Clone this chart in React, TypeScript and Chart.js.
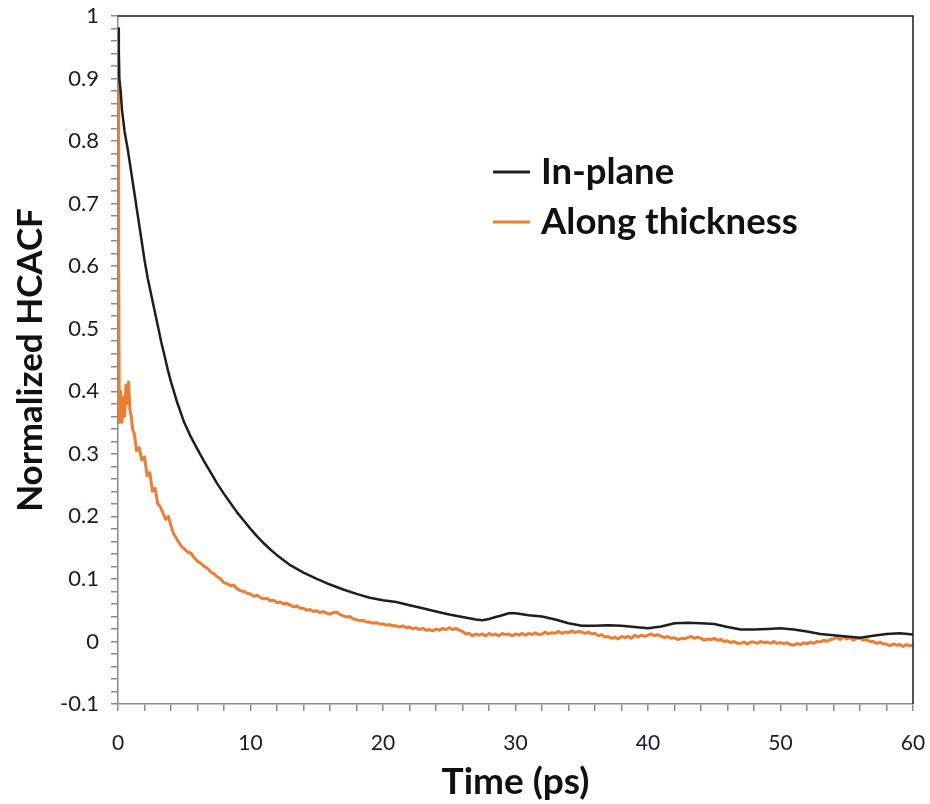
import React, { useEffect, useRef } from "react";
import { Chart, registerables } from "chart.js";

Chart.register(...registerables);

const inPlaneTime = [0, 0.05, 0.1, 0.2, 0.3, 0.5, 0.75, 1, 1.25, 1.5, 1.75, 2, 2.25, 2.5, 2.75, 3, 3.25, 3.5, 3.75, 4, 4.5, 5, 5.5, 6, 6.5, 7, 7.5, 8, 8.5, 9, 9.5, 10, 10.5, 11, 11.5, 12, 12.5, 13, 13.5, 14, 15, 16, 17, 18, 19, 20, 21, 22, 23, 24, 25, 26, 27, 27.5, 28, 28.5, 29, 29.5, 30, 31, 32, 33, 34, 35, 36, 37, 38, 39, 40, 41, 42, 43, 44, 45, 46, 47, 48, 49, 50, 51, 52, 53, 54, 55, 56, 57, 58, 59, 60];
const inPlaneValue = [0.98, 0.95, 0.9, 0.88, 0.85, 0.815, 0.785, 0.75, 0.715, 0.68, 0.645, 0.61, 0.58, 0.555, 0.53, 0.505, 0.48, 0.458, 0.435, 0.415, 0.38, 0.35, 0.327, 0.307, 0.288, 0.27, 0.252, 0.236, 0.221, 0.206, 0.193, 0.18, 0.168, 0.157, 0.147, 0.138, 0.13, 0.122, 0.116, 0.11, 0.1, 0.091, 0.083, 0.076, 0.07, 0.066, 0.063, 0.058, 0.053, 0.048, 0.043, 0.039, 0.035, 0.034, 0.036, 0.039, 0.042, 0.045, 0.045, 0.042, 0.04, 0.035, 0.029, 0.025, 0.025, 0.026, 0.025, 0.023, 0.021, 0.024, 0.029, 0.03, 0.029, 0.028, 0.023, 0.019, 0.019, 0.02, 0.021, 0.019, 0.016, 0.012, 0.01, 0.008, 0.006, 0.009, 0.012, 0.013, 0.011];

// Along thickness: irregular early samples (0–4.8 ps)
const thicknessEarlyTime = [0, 0.05, 0.1, 0.2, 0.3, 0.4, 0.5, 0.6, 0.7, 0.8, 0.9, 1.0, 1.1, 1.25, 1.4, 1.6, 1.8, 2.0, 2.2, 2.4, 2.6, 2.8, 3.0, 3.2, 3.4, 3.6, 3.8, 4.0, 4.2, 4.4, 4.6, 4.8];
const thicknessEarlyValue = [0.98, 0.6, 0.35, 0.4, 0.35, 0.39, 0.36, 0.41, 0.38, 0.415, 0.37, 0.36, 0.34, 0.33, 0.305, 0.31, 0.29, 0.295, 0.265, 0.27, 0.24, 0.245, 0.22, 0.215, 0.205, 0.195, 0.2, 0.185, 0.172, 0.165, 0.158, 0.152];
// Along thickness: samples every 0.25 ps from 5 ps to 60 ps
const thicknessTailStart = 5;
const thicknessTailStep = 0.25;
const thicknessTailValue = [
  0.148, 0.143, 0.141, 0.134, 0.128, 0.125, 0.12, 0.117, 0.111, 0.108, 0.103, 0.1,
  0.094, 0.092, 0.089, 0.09, 0.084, 0.081, 0.08, 0.077, 0.076, 0.072, 0.074, 0.07,
  0.068, 0.069, 0.065, 0.066, 0.062, 0.063, 0.06, 0.061, 0.058, 0.055, 0.057, 0.053,
  0.053, 0.05, 0.051, 0.048, 0.049, 0.046, 0.048, 0.045, 0.044, 0.046, 0.047, 0.043,
  0.041, 0.039, 0.04, 0.036, 0.035, 0.033, 0.034, 0.031, 0.031, 0.029, 0.03, 0.028,
  0.028, 0.026, 0.027, 0.025, 0.025, 0.023, 0.025, 0.022, 0.023, 0.02, 0.022, 0.019,
  0.021, 0.018, 0.019, 0.017, 0.02, 0.018, 0.021, 0.019, 0.022, 0.019, 0.021, 0.018,
  0.016, 0.012, 0.013, 0.009, 0.012, 0.01, 0.012, 0.009, 0.013, 0.01, 0.012, 0.009,
  0.013, 0.011, 0.012, 0.009, 0.012, 0.01, 0.013, 0.01, 0.013, 0.011, 0.014, 0.011,
  0.012, 0.015, 0.012, 0.014, 0.013, 0.016, 0.013, 0.015, 0.014, 0.017, 0.014, 0.016,
  0.015, 0.013, 0.015, 0.012, 0.013, 0.009, 0.011, 0.007, 0.008, 0.005, 0.007, 0.004,
  0.008, 0.006, 0.008, 0.005, 0.01, 0.007, 0.01, 0.008, 0.01, 0.012, 0.009, 0.011,
  0.008, 0.006, 0.008, 0.005, 0.006, 0.003, 0.005, 0.004, 0.006, 0.008, 0.005, 0.007,
  0.005, 0.002, 0.004, 0.003, 0.005, 0.002, 0.003, 0.0, 0.001, -0.002, 0.0, -0.003,
  -0.003, -0.001, -0.004, -0.001, -0.001, -0.003, 0.0, -0.002, -0.001, -0.003, 0.0, -0.003,
  -0.002, -0.004, -0.002, -0.005, -0.006, -0.003, -0.005, -0.002, -0.004, -0.001, -0.003, 0.0,
  -0.001, 0.002, 0.0, 0.003, 0.004, 0.007, 0.003, 0.008, 0.004, 0.006, 0.002, 0.005,
  0.005, 0.002, 0.003, 0.0, 0.0, -0.003, -0.001, -0.004, -0.004, -0.007, -0.004, -0.006,
  -0.005, -0.008, -0.005, -0.007, -0.006,
];

const seriesNames = ["In-plane", "Along thickness"];
const seriesColors = ["#1e1e1e", "#ED7D31"];

const FONT = "Lato, 'Open Sans', sans-serif";

export default function App() {
  const canvasRef = useRef<HTMLCanvasElement | null>(null);

  useEffect(() => {
    const canvas = canvasRef.current;
    if (!canvas) return;

    const thicknessPoints = [
      ...thicknessEarlyTime.map((t, i) => ({ x: t, y: thicknessEarlyValue[i] })),
      ...thicknessTailValue.map((v, i) => ({ x: thicknessTailStart + i * thicknessTailStep, y: v })),
    ];

    const legendPlugin = {
      id: "customLegend",
      afterDraw(chart: any) {
        const ctx = chart.ctx;
        const { top, right, left, bottom } = chart.chartArea;
        ctx.save();
        ctx.strokeStyle = "#1a1a1a";
        ctx.lineWidth = 1.5;
        ctx.beginPath();
        ctx.moveTo(left, top);
        ctx.lineTo(right, top);
        ctx.lineTo(right, bottom);
        ctx.stroke();
        const lx = 493;
        const rows = [172, 222];
        ctx.font = `bold 36.5px ${FONT}`;
        ctx.textBaseline = "middle";
        ctx.textAlign = "left";
        rows.forEach((y, i) => {
          ctx.strokeStyle = seriesColors[i];
          ctx.lineWidth = 3;
          ctx.beginPath();
          ctx.moveTo(lx, y);
          ctx.lineTo(lx + 37, y);
          ctx.stroke();
          ctx.fillStyle = "#111";
          ctx.fillText(seriesNames[i], lx + 48, y);
        });
        ctx.restore();
      },
    };

    const isMajor = (v: number, step: number) => Math.abs(Math.round(v / step) - v / step) < 1e-6;

    const chart = new Chart(canvas, {
      type: "line",
      data: {
        datasets: [
          {
            label: seriesNames[0],
            data: inPlaneTime.map((t, i) => ({ x: t, y: inPlaneValue[i] })),
            borderColor: seriesColors[0],
            borderWidth: 2.5,
            pointRadius: 0,
            tension: 0,
            borderJoinStyle: "round",
          },
          {
            label: seriesNames[1],
            data: thicknessPoints,
            borderColor: seriesColors[1],
            borderWidth: 3,
            pointRadius: 0,
            tension: 0,
            borderJoinStyle: "round",
          },
        ],
      },
      options: {
        animation: false,
        responsive: false,
        maintainAspectRatio: false,
        layout: { padding: { top: 16, right: 17, left: 0, bottom: 0 } },
        plugins: { legend: { display: false }, tooltip: { enabled: false } },
        scales: {
          x: {
            type: "linear",
            min: 0,
            max: 60,
            afterFit(scale: any) {
              scale.height = 100;
              scale.paddingLeft = 0;
              scale.paddingRight = 0;
            },
            ticks: {
              stepSize: 2,
              autoSkip: false,
              maxRotation: 0,
              padding: 20,
              color: "#1a1a2a",
              font: { family: FONT, size: 21 },
              callback: (v: any) => (isMajor(Number(v), 10) ? String(Math.round(Number(v))) : ""),
            },
            grid: { drawOnChartArea: false, drawTicks: true, tickLength: 7, color: "#8a8a8a", lineWidth: 1.5 },
            border: { color: "#8a8a8a", width: 1.5 },
            title: {
              display: true,
              text: "Time (ps)",
              color: "#111",
              font: { family: FONT, size: 37, weight: "bold" },
              padding: { top: 0, bottom: 0 },
            },
          },
          y: {
            type: "linear",
            min: -0.1,
            max: 1,
            afterFit(scale: any) {
              scale.width = 118;
              scale.paddingTop = 0;
              scale.paddingBottom = 0;
            },
            ticks: {
              stepSize: 0.02,
              autoSkip: false,
              padding: 12,
              color: "#1a1a2a",
              font: { family: FONT, size: 22 },
              callback: (v: any) => {
                const n = Number(v);
                if (!isMajor(n, 0.1)) return "";
                return String(Math.round(n * 10) / 10);
              },
            },
            grid: { drawOnChartArea: false, drawTicks: true, tickLength: 7, color: "#8a8a8a", lineWidth: 1.5 },
            border: { color: "#8a8a8a", width: 1.5 },
            title: {
              display: true,
              text: "Normalized HCACF",
              color: "#111",
              font: { family: FONT, size: 35, weight: "bold" },
              padding: { top: 10, bottom: 0 },
            },
          },
        },
      },
      plugins: [legendPlugin],
    } as any);

    return () => chart.destroy();
  }, []);

  return (
    <div style={{ position: "absolute", left: 0, top: 0, width: 930, height: 804, background: "#fff" }}>
      <canvas ref={canvasRef} width={930} height={804} style={{ width: 930, height: 804, display: "block" }} />
    </div>
  );
}
